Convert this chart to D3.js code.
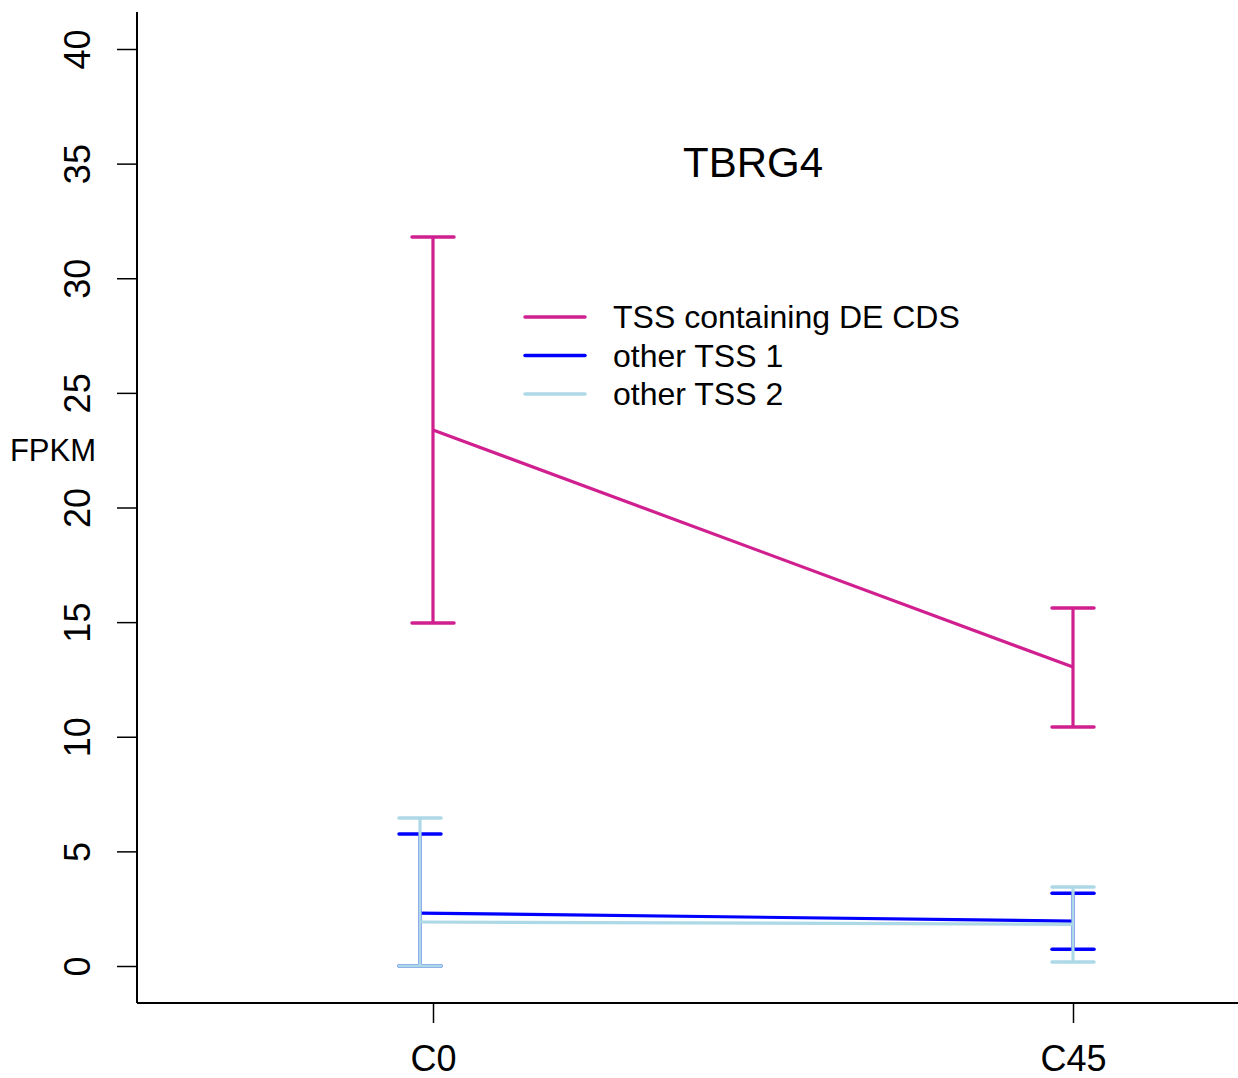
<!DOCTYPE html>
<html>
<head>
<meta charset="utf-8">
<script src="https://cdn.jsdelivr.net/npm/d3@7"></script>
<style>
  body { margin: 0; background: #fff; }
  text { font-family: "Liberation Sans", Arial, Helvetica, sans-serif; }
</style>
</head>
<body>
<div class="chart"></div>
<script>
// data
var conditions = ["C0", "C45"];
var seriesNames = ["TSS containing DE CDS", "other TSS 1", "other TSS 2"];
var seriesColors = ["#D02090", "#0000FF", "#ADD8E6"];
var meanDE = [23.38, 13.04];
var upperDE = [31.8, 15.62];
var lowerDE = [14.96, 10.43];
var meanTSS1 = [2.31, 1.96];
var upperTSS1 = [5.76, 3.17];
var lowerTSS1 = [0, 0.73];
var meanTSS2 = [1.92, 1.82];
var upperTSS2 = [6.46, 3.45];
var lowerTSS2 = [0, 0.17];
var yTicks = [0, 5, 10, 15, 20, 25, 30, 35, 40];
var title = "TBRG4";
var yLabel = "FPKM";

function drawChart() {
    var w = 1238;
    var h = 1078;

    var svg = d3.select(".chart")
        .append("svg")
        .attr("width", w)
        .attr("height", h);

    var x = d3.scalePoint().domain(conditions).range([433, 1073]);
    var y = d3.scaleLinear().domain([0, 40]).range([966, 49]);

    // small shift the other TSS series have at the first time point
    var shift = [[0, 0], [-13, 0], [-13, 0]];

    var series = [
        { name: seriesNames[0], color: seriesColors[0], mean: meanDE, up: upperDE, lo: lowerDE },
        { name: seriesNames[1], color: seriesColors[1], mean: meanTSS1, up: upperTSS1, lo: lowerTSS1 },
        { name: seriesNames[2], color: seriesColors[2], mean: meanTSS2, up: upperTSS2, lo: lowerTSS2 }
    ];

    // axes frame (L shape)
    svg.append("line")
        .attr("x1", 137).attr("x2", 137)
        .attr("y1", 12).attr("y2", 1003)
        .attr("stroke", "#000").attr("stroke-width", 2);
    svg.append("line")
        .attr("x1", 137).attr("x2", w)
        .attr("y1", 1003).attr("y2", 1003)
        .attr("stroke", "#000").attr("stroke-width", 2);

    var yAxis = svg.append("g")
        .attr("transform", "translate(137,0)")
        .call(d3.axisLeft(y).tickValues(yTicks).tickSize(20).tickFormat(d3.format("d")));
    yAxis.select(".domain").remove();
    yAxis.selectAll(".tick line").attr("stroke", "#000").attr("stroke-width", 1.5);
    yAxis.selectAll(".tick text")
        .attr("x", 0).attr("y", 0).attr("dy", null)
        .attr("text-anchor", "middle")
        .attr("transform", "translate(-47,0) rotate(-90)")
        .attr("font-size", 36)
        .attr("font-family", "Liberation Sans, Arial, sans-serif")
        .attr("fill", "#000");

    var xAxis = svg.append("g")
        .attr("transform", "translate(0,1003)")
        .call(d3.axisBottom(x).tickSize(20).tickPadding(22));
    xAxis.select(".domain").remove();
    xAxis.selectAll(".tick line").attr("stroke", "#000").attr("stroke-width", 1.5);
    xAxis.selectAll(".tick text")
        .attr("font-size", 36)
        .attr("font-family", "Liberation Sans, Arial, sans-serif")
        .attr("fill", "#000");

    svg.append("text")
        .text(yLabel)
        .attr("x", 53).attr("y", 461)
        .attr("text-anchor", "middle")
        .attr("font-size", 31);

    svg.append("text")
        .text(title)
        .attr("x", 753).attr("y", 177)
        .attr("text-anchor", "middle")
        .attr("font-size", 42);

    var capHalf = 21;

    series.forEach(function (s, si) {
        var g = svg.append("g");
        var pts = conditions.map(function (c, i) {
            return { x: x(c) + shift[si][i], m: s.mean[i], up: s.up[i], lo: s.lo[i] };
        });

        g.selectAll("line.bar").data(pts).enter().append("line")
            .attr("x1", function (d) { return d.x; })
            .attr("x2", function (d) { return d.x; })
            .attr("y1", function (d) { return y(d.up); })
            .attr("y2", function (d) { return y(d.lo); })
            .attr("stroke", s.color).attr("stroke-width", 3.2);

        g.selectAll("line.capU").data(pts).enter().append("line")
            .attr("x1", function (d) { return d.x - capHalf; })
            .attr("x2", function (d) { return d.x + capHalf; })
            .attr("y1", function (d) { return y(d.up); })
            .attr("y2", function (d) { return y(d.up); })
            .attr("stroke", s.color).attr("stroke-width", 3.5)
            .attr("stroke-linecap", "round");

        g.selectAll("line.capL").data(pts).enter().append("line")
            .attr("x1", function (d) { return d.x - capHalf; })
            .attr("x2", function (d) { return d.x + capHalf; })
            .attr("y1", function (d) { return y(d.lo); })
            .attr("y2", function (d) { return y(d.lo); })
            .attr("stroke", s.color).attr("stroke-width", 3.5)
            .attr("stroke-linecap", "round");

        g.append("path")
            .datum(pts)
            .attr("d", d3.line().x(function (d) { return d.x; }).y(function (d) { return y(d.m); }))
            .attr("fill", "none")
            .attr("stroke", s.color)
            .attr("stroke-width", 3.2);
    });

    // legend
    var legend = svg.append("g");
    series.forEach(function (s, i) {
        var ly = 317 + i * 38.5;
        legend.append("line")
            .attr("x1", 525).attr("x2", 585)
            .attr("y1", ly).attr("y2", ly)
            .attr("stroke", s.color).attr("stroke-width", 3.5)
            .attr("stroke-linecap", "round");
        legend.append("text")
            .text(s.name)
            .attr("x", 613).attr("y", ly + 11)
            .attr("font-size", 32);
    });
}

drawChart();
</script>
</body>
</html>
